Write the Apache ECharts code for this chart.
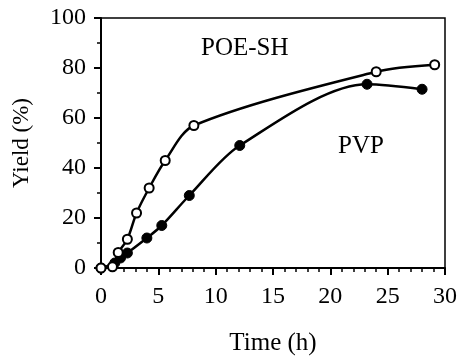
<!DOCTYPE html>
<html>
<head>
<meta charset="utf-8">
<script src="https://cdn.jsdelivr.net/npm/echarts@6/dist/echarts.min.js"></script>
<style>
  html, body { margin: 0; padding: 0; background: #fff; }
  #chart { width: 458px; height: 356px; }
</style>
</head>
<body>
<div id="chart"></div>
<script>
// POE-SH (open circles) and PVP (filled circles): [time h, yield %]
const poeShData = [[0, 0], [1, 0.5], [1.5, 6.2], [2.3, 11.5], [3.1, 22], [4.2, 32], [5.6, 43], [8.1, 57], [24, 78.5], [29.1, 81.3]];
const pvpData = [[0, 0], [1.2, 2], [1.7, 4], [2.3, 6], [4, 12], [5.3, 17], [7.7, 29], [12.1, 49], [23.2, 73.5], [28, 71.5]];
const seriesNames = ['POE-SH', 'PVP'];

const font = 'Liberation Serif';
const chart = echarts.init(document.getElementById('chart'));

const axisCommon = {
    axisLine: { lineStyle: { color: '#000', width: 2 } },
    axisTick: { inside: false, length: 7, lineStyle: { color: '#000', width: 2 } },
    minorTick: { show: true, length: 4, lineStyle: { color: '#000', width: 1.5 } },
    splitLine: { show: false },
    axisLabel: { color: '#000', fontFamily: font, fontSize: 24 },
    nameTextStyle: { color: '#000', fontFamily: font, fontSize: 24 }
};

chart.setOption({
    animation: false,
    grid: {
        left: 101, right: 13, top: 18, bottom: 88,
        outerBoundsMode: 'none',
        show: true, borderColor: '#000', borderWidth: 1.5
    },
    xAxis: {
        ...axisCommon,
        type: 'value',
        min: 0, max: 30, interval: 5,
        minorTick: { ...axisCommon.minorTick, splitNumber: 5 },
        axisLabel: { ...axisCommon.axisLabel, margin: 17 },
        name: 'Time (h)',
        nameLocation: 'middle',
        nameTextStyle: { ...axisCommon.nameTextStyle, fontSize: 25 },
        nameGap: 63
    },
    yAxis: {
        ...axisCommon,
        type: 'value',
        min: 0, max: 100, interval: 20,
        minorTick: { ...axisCommon.minorTick, splitNumber: 2 },
        axisLabel: { ...axisCommon.axisLabel, margin: 15 },
        name: 'Yield (%)',
        nameLocation: 'middle',
        nameTextStyle: { ...axisCommon.nameTextStyle, fontSize: 23 },
        nameGap: 68,
        nameRotate: 90
    },
    series: [
        {
            name: seriesNames[0],
            type: 'line',
            data: poeShData,
            smooth: 0.3,
            symbol: 'circle',
            symbolSize: 9,
            lineStyle: { color: '#000', width: 2.5 },
            itemStyle: { color: '#fff', borderColor: '#000', borderWidth: 2 },
            z: 3
        },
        {
            name: seriesNames[1],
            type: 'line',
            data: pvpData,
            smooth: 0.3,
            symbol: 'circle',
            symbolSize: 10,
            lineStyle: { color: '#000', width: 2.5 },
            itemStyle: { color: '#000', borderColor: '#000', borderWidth: 1 },
            z: 2
        }
    ],
    graphic: [
        {
            type: 'text', left: 201, top: 36,
            style: { text: seriesNames[0], font: '25px "Liberation Serif"', fill: '#000' }
        },
        {
            type: 'text', left: 338, top: 134,
            style: { text: seriesNames[1], font: '25px "Liberation Serif"', fill: '#000' }
        }
    ]
});
</script>
</body>
</html>
